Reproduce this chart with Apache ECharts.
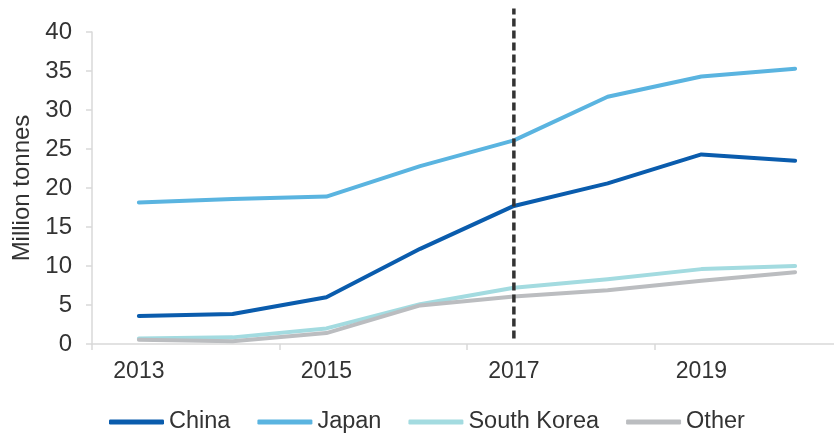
<!DOCTYPE html>
<html><head><meta charset="utf-8">
<script src="https://cdn.jsdelivr.net/npm/echarts@6/dist/echarts.min.js"></script>
<style>html,body{margin:0;padding:0;background:#fff}#c{width:834px;height:438px}</style>
</head><body><div id="c"></div>
<script>
const years = ['2013','2014','2015','2016','2017','2018','2019','2020'];
const china = [3.6, 3.85, 6.0, 12.2, 17.7, 20.6, 24.3, 23.5];
const japan = [18.15, 18.6, 18.9, 22.8, 26.1, 31.7, 34.3, 35.3];
const southKorea = [0.7, 0.85, 2.0, 5.1, 7.2, 8.3, 9.6, 10.0];
const other = [0.55, 0.35, 1.4, 4.95, 6.1, 6.9, 8.1, 9.2];
const yTicks = [0, 5, 10, 15, 20, 25, 30, 35, 40];
const markerYear = '2017';
const markerRange = [0.7, 43];

const font = 'Liberation Sans, Arial, sans-serif';
const chart = echarts.init(document.getElementById('c'), null, {renderer:'canvas'});
function mk(name, data, color, extra){
  return Object.assign({
    name, type:'line', data, symbol:'none', smooth:false,
    lineStyle:{color, width:4, cap:'round', join:'round'},
    itemStyle:{color}
  }, extra||{});
}
chart.setOption({
  animation:false,
  textStyle:{fontFamily:font},
  grid:{left:92, width:750, top:32, bottom:94, containLabel:false, outerBoundsMode:'none'},
  legend:{
    bottom:-1, left:104, icon:'roundRect', itemWidth:55, itemHeight:5, itemGap:27,
    textStyle:{fontSize:23.5, color:'#333', fontFamily:font},
    data:['China','Japan','South Korea','Other']
  },
  xAxis:{
    type:'category', data:years, boundaryGap:true,
    axisLine:{lineStyle:{color:'#d9d9d9', width:1.5}},
    axisTick:{show:true, length:6, lineStyle:{color:'#d9d9d9', width:1.5}},
    axisLabel:{interval:1, fontSize:23, color:'#333', margin:16, fontFamily:font}
  },
  yAxis:{
    type:'value', min:yTicks[0], max:yTicks[yTicks.length-1], interval:5,
    name:'Million tonnes', nameLocation:'middle', nameGap:55, nameRotate:90,
    nameTextStyle:{fontSize:24, color:'#333', fontFamily:font},
    axisLine:{show:true, lineStyle:{color:'#d9d9d9', width:1.5}},
    axisTick:{show:true, length:6, lineStyle:{color:'#d9d9d9', width:1.5}},
    splitLine:{show:false},
    axisLabel:{fontSize:24, color:'#333', margin:20, fontFamily:font}
  },
  series:[
    mk('China', china, '#0a5cad'),
    mk('Japan', japan, '#5ab4e0'),
    mk('South Korea', southKorea, '#a3dbe0'),
    mk('Other', other, '#bbbdc0'),
    {
      name:'marker', type:'line', clip:false, symbol:'none', silent:true,
      data:markerRange.map(v => [markerYear, v]),
      lineStyle:{color:'#333', width:3.5, type:[8,4]}, z:5
    }
  ]
});
</script></body></html>
